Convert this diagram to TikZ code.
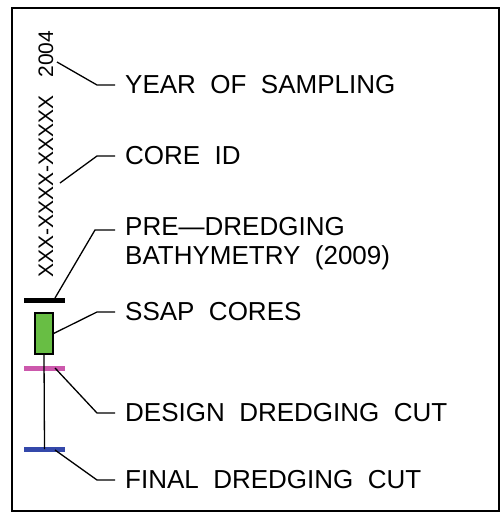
\documentclass[tikz,border=0pt]{standalone}
\usepackage{fontspec}
\setmainfont{Liberation Sans}
\definecolor{coregreen}{RGB}{104,190,68}
\definecolor{designmag}{RGB}{204,88,172}
\definecolor{finalblue}{RGB}{52,72,170}
\tikzset{
  lab/.style={anchor=west, inner sep=0pt, font=\fontsize{26}{29}\selectfont, align=left},
  leader/.style={line width=1.3pt, line join=round},
  bar/.style={draw=none, minimum width=41pt, minimum height=5pt, inner sep=0pt},
}
\begin{document}
\begin{tikzpicture}[x=1pt,y=-1pt]
\useasboundingbox (0,0) rectangle (501,514);
\draw[line width=2pt] (12,8) rectangle (499,511);

% rotated sample label
\node[rotate=90, inner sep=0pt, font=\fontsize{21}{24}\selectfont] (idtext) at (46,154) {XXX-XXXX-XXXXX\ \ \ 2004};

% bars and core
\node[bar, fill=black] (prebar) at (44.5,300.5) {};
\node[draw, line width=1.2pt, fill=coregreen, minimum width=18pt, minimum height=41pt, inner sep=0pt] (core) at (44,333.5) {};
\node[bar, fill=designmag] (desbar) at (44.5,368.5) {};
\node[bar, fill=finalblue] (finbar) at (44.5,449) {};
\draw[leader] (core.south) -- (finbar.center);

% labels
\node[lab] (year) at (125,85) {YEAR\ \ OF\ \ SAMPLING};
\node[lab] (coreid) at (125,156) {CORE\ \ ID};
\node[lab, anchor=north west] (pre) at (125,217) {PRE---DREDGING\\BATHYMETRY\ \ (2009)};
\node[lab] (ssap) at (125,312) {SSAP\ \ CORES};
\node[lab] (design) at (125,413) {DESIGN\ \ DREDGING\ \ CUT};
\node[lab] (final) at (125,480) {FINAL\ \ DREDGING\ \ CUT};

% leader start points
\coordinate (ys) at (57,62);
\coordinate (cs) at (60,183);
\coordinate (ps) at (55,298);
\coordinate (ss) at (core.east);
\coordinate (ds) at (55,368);
\coordinate (fs) at (55,450);

\draw[leader] (ys) -- (97,85) -- ([xshift=-10pt]year.west);
\draw[leader] (cs) -- (97,156) -- ([xshift=-10pt]coreid.west);
\draw[leader] (ps) -- (95,230) -- ([xshift=-10pt]pre.west |- 0,230);
\draw[leader] (ss) -- (97,312) -- ([xshift=-10pt]ssap.west);
\draw[leader] (ds) -- (97,413) -- ([xshift=-10pt]design.west);
\draw[leader] (fs) -- (97,480) -- ([xshift=-10pt]final.west);
\end{tikzpicture}
\end{document}
